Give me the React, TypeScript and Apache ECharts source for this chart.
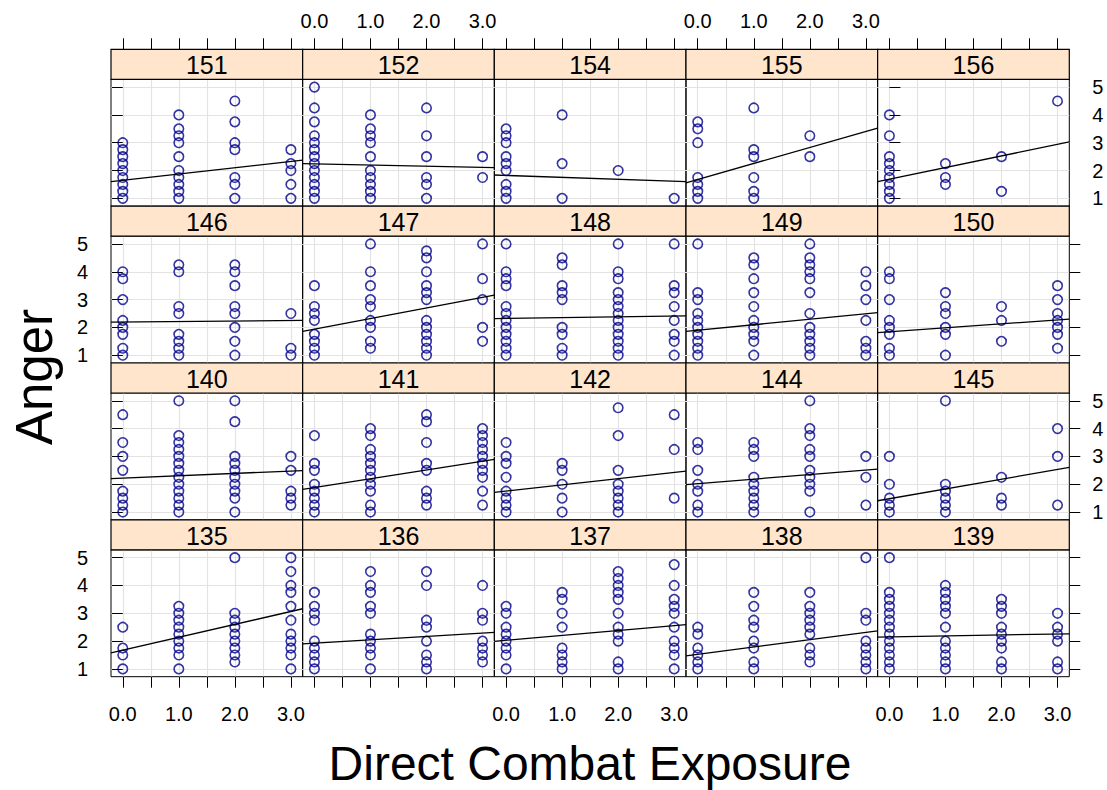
import React, { useEffect, useRef } from "react";
import * as echarts from "echarts";

// ---------------- data ----------------
const panelIds = [
  "151", "152", "154", "155", "156",
  "146", "147", "148", "149", "150",
  "140", "141", "142", "144", "145",
  "135", "136", "137", "138", "139",
];
const exposureLevels = [0, 1, 2, 3];

// Anger scores per exposure level (0,1,2,3) for each soldier panel
const anger151 = [[3, 2.75, 2.5, 2.25, 2, 1.75, 1.5, 1.25, 1], [4, 3.5, 3.25, 3, 2.5, 2, 1.75, 1.5, 1.25, 1], [4.5, 3.75, 3, 2.75, 1.75, 1.5, 1], [2.75, 2.25, 2, 1.5, 1]];
const anger152 = [[5, 4.25, 3.75, 3.25, 3, 2.75, 2.5, 2.25, 2, 1.75, 1.5, 1.25, 1], [4, 3.5, 3.25, 3, 2.5, 2, 1.75, 1.5, 1.25, 1], [4.25, 3.25, 2.5, 1.75, 1.5, 1], [2.5, 1.75]];
const anger154 = [[3.5, 3.25, 3, 2.5, 2.25, 2, 1.5, 1.25, 1], [4, 2.25, 1], [2], [1]];
const anger155 = [[3.75, 3.5, 3, 1.75, 1.5, 1.25, 1], [4.25, 2.75, 2.5, 1.75, 1.25, 1], [3.25, 2.5], []];
const anger156 = [[4, 3.25, 2.5, 2.25, 2, 1.75, 1.5, 1.25, 1], [2.25, 1.75, 1.5], [2.5, 1.25], [4.5]];
const anger146 = [[4, 3.75, 3, 2.25, 2, 1.75, 1.25, 1], [4.25, 4, 2.75, 2.5, 1.75, 1.5, 1.25, 1], [4.25, 4, 3.5, 2.75, 2.5, 2, 1.5, 1], [2.5, 1.25, 1]];
const anger147 = [[3.5, 2.75, 2.5, 2.25, 1.75, 1.5, 1.25, 1], [5, 4, 3.5, 3, 2.75, 2.25, 2, 1.5, 1.25], [4.75, 4.5, 4, 3.5, 3.25, 3, 2.25, 2, 1.75, 1.5, 1.25, 1], [5, 3.75, 3, 2, 1.5]];
const anger148 = [[5, 4, 3.75, 3.5, 2.75, 2.5, 2.25, 2, 1.75, 1.5, 1.25, 1], [4.5, 4.25, 3.5, 3.25, 3, 2, 1.75, 1.25, 1], [5, 4, 3.75, 3.25, 3, 2.75, 2.5, 2.25, 2, 1.75, 1.5, 1.25, 1], [5, 3.5, 3.25, 2.75, 2.25, 1.75, 1.5, 1]];
const anger149 = [[5, 3.25, 3, 2.5, 2.25, 2, 1.75, 1.5, 1.25, 1], [4.5, 4.25, 3.75, 3.25, 2.75, 2.25, 2, 1.75, 1.5, 1], [5, 4.5, 4.25, 4, 3.75, 3.25, 2.5, 2, 1.75, 1.5, 1.25, 1], [4, 3.5, 3, 2.25, 1.5, 1.25, 1]];
const anger150 = [[4, 3.75, 3, 2.25, 2, 1.75, 1.25, 1], [3.25, 2.75, 2.5, 2, 1.75, 1], [2.75, 2.25, 1.5], [3.5, 3, 2.5, 2.25, 2, 1.75, 1.25]];
const anger140 = [[4.5, 3.5, 3, 2.5, 1.75, 1.5, 1.25, 1], [5, 3.75, 3.5, 3.25, 3, 2.75, 2.5, 2.25, 2, 1.75, 1.5, 1.25, 1], [5, 4.25, 3, 2.75, 2.5, 2.25, 2, 1.75, 1.5, 1], [3, 2.5, 1.75, 1.5, 1.25]];
const anger141 = [[3.75, 2.75, 2.5, 2, 1.75, 1.5, 1.25, 1], [4, 3.75, 3.25, 3, 2.75, 2.5, 2.25, 2, 1.75, 1.25, 1], [4.5, 4.25, 3.5, 2.75, 2.5, 1.75, 1.5, 1.25], [4, 3.75, 3.5, 3.25, 3, 2.75, 2.5, 2.25, 1.75, 1.25]];
const anger142 = [[3.5, 3, 2.75, 2.25, 1.75, 1.5, 1.25, 1], [2.75, 2.5, 2, 1.5, 1], [4.75, 3.75, 2.5, 2, 1.75, 1.5, 1.25, 1], [4.5, 3.25, 1.5]];
const anger144 = [[3.5, 3.25, 2.5, 2, 1.75, 1.25, 1], [3.5, 3.25, 3, 2.25, 2, 1.75, 1.5, 1.25, 1], [5, 4, 3.75, 3.25, 3, 2.5, 2.25, 2, 1.75, 1], [3, 2.25, 1.25]];
const anger145 = [[3, 2, 1.5, 1.25, 1], [5, 2, 1.75, 1.5, 1.25, 1], [2.25, 1.5, 1.25], [4, 3, 1.25]];
const anger135 = [[2.5, 1.75, 1.5, 1], [3.25, 3, 2.75, 2.5, 2.25, 2, 1.75, 1.5, 1], [5, 3, 2.75, 2.5, 2.25, 2, 1.75, 1.5, 1.25], [5, 4.5, 4, 3.75, 3.25, 2.75, 2.25, 2, 1.75, 1.5, 1]];
const anger136 = [[3.75, 3.25, 3, 2.75, 2, 1.75, 1.5, 1.25, 1], [4.5, 4, 3.75, 3.25, 3, 2.25, 2, 1.75, 1.5, 1], [4.5, 4, 2.75, 2.5, 2, 1.5, 1.25, 1], [4, 3, 2.75, 2, 1.75, 1.5, 1.25]];
const anger137 = [[3.25, 3, 2.5, 2.25, 2, 1.75, 1.5, 1], [3.75, 3.5, 3, 2.5, 1.75, 1.5, 1.25, 1], [4.5, 4.25, 4, 3.75, 3.5, 3, 2.5, 2.25, 2, 1.25, 1], [4.75, 4, 3.5, 3.25, 3, 2.5, 2, 1.75, 1.5, 1]];
const anger138 = [[2.5, 2.25, 1.75, 1.5, 1.25, 1], [3.75, 3.25, 2.75, 2.5, 2, 1.75, 1.25, 1], [3.75, 3.25, 3, 2.75, 2.5, 2.25, 1.75, 1.5, 1.25], [5, 3, 2.75, 2, 1.75, 1.5, 1.25, 1]];
const anger139 = [[5, 3.75, 3.5, 3.25, 3, 2.75, 2.5, 2.25, 2, 1.75, 1.5, 1.25, 1], [4, 3.75, 3.5, 3.25, 3, 2.5, 2, 1.75, 1.5, 1.25, 1], [3.5, 3.25, 3, 2.5, 2.25, 2, 1.75, 1.25, 1], [3, 2.5, 2.25, 2, 1.25, 1]];

const panelValues = [
  anger151, anger152, anger154, anger155, anger156,
  anger146, anger147, anger148, anger149, anger150,
  anger140, anger141, anger142, anger144, anger145,
  anger135, anger136, anger137, anger138, anger139,
];

// fitted least-squares lines (intercept at exposure 0, slope)
const fitIntercepts = [
  1.65, 2.24, 1.825, 1.68, 1.69,
  2.195, 1.94, 2.32, 1.9, 1.84,
  2.22, 1.88, 1.757, 2.02, 1.48,
  1.67, 1.925, 2.03, 1.525, 2.15,
];
const fitSlopes = [
  0.225, -0.041, -0.07, 0.576, 0.418,
  0.0175, 0.38, 0.029, 0.196, 0.143,
  0.085, 0.316, 0.222, 0.164, 0.351,
  0.465, 0.12, 0.175, 0.263, 0.035,
];

const xTickValues = [0, 0.5, 1, 1.5, 2, 2.5, 3];
const xLabelValues = [0, 1, 2, 3];
const yTickValues = [1, 2, 3, 4, 5];

const X_MIN = -0.21;
const X_MAX = 3.21;
const Y_MIN = 0.72;
const Y_MAX = 5.28;

// ---------------- layout ----------------
const COLS = 5;
const ROWS = 4;
const PL = 111;
const PW = 191.66;
const TOP0 = 49.3;
const ROWH = 156.85;
const STRIP = 30;
const PH = ROWH - STRIP;
const FONT = "Liberation Sans";
const PT_COLOR = "#00008B";
const GRID_COLOR = "#e3e3e3";
const TICK_FONT = 20;

const isLabelValue = (v: number, list: number[]) => list.some((x) => Math.abs(x - v) < 1e-6);

function buildOption() {
  const grids: any[] = [];
  const xAxes: any[] = [];
  const yAxes: any[] = [];
  const series: any[] = [];
  const graphics: any[] = [];

  const tickStyle = { show: true, length: 11, inside: false, lineStyle: { color: "#000", width: 1 } };

  // labels use the axis' own nice ticks; only the wanted values get text
  const mkLabel = (show: boolean, margin: number, values: number[], fmt: (v: number) => string) => ({
    show,
    margin,
    interval: 0,
    showMinLabel: true,
    showMaxLabel: true,
    hideOverlap: false,
    formatter: (v: number) => (isLabelValue(v, values) ? fmt(v) : ""),
    color: "#000",
    fontFamily: FONT,
    fontSize: TICK_FONT,
  });

  panelIds.forEach((id, i) => {
    const r = Math.floor(i / COLS);
    const c = i % COLS;
    const left = PL + c * PW;
    const stripTop = TOP0 + r * ROWH;
    const top = stripTop + STRIP;

    grids.push({
      left, top, width: PW, height: PH,
      show: true, borderColor: "#000", borderWidth: 1,
      backgroundColor: "transparent", containLabel: false, outerBoundsMode: "none",
    });

    const fx = (v: number) => v.toFixed(1);
    const fy = (v: number) => String(Math.round(v));

    // primary x (bottom)
    const xi = xAxes.length;
    const isBottom = r === ROWS - 1;
    xAxes.push({
      type: "value", gridIndex: i, position: "bottom", min: X_MIN, max: X_MAX,
      axisLine: { show: false },
      axisTick: { ...tickStyle, show: isBottom, customValues: xTickValues },
      axisLabel: mkLabel(isBottom && c % 2 === 0, 27, xLabelValues, fx),
      splitLine: { show: true, lineStyle: { color: GRID_COLOR, width: 1.2 } },
    });
    if (r === 0) {
      xAxes.push({
        type: "value", gridIndex: i, position: "top", offset: STRIP, min: X_MIN, max: X_MAX,
        axisLine: { show: false },
        axisTick: { ...tickStyle, customValues: xTickValues },
        axisLabel: mkLabel(c % 2 === 1, 18, xLabelValues, fx),
        splitLine: { show: false },
      });
    }

    // primary y (left)
    const yi = yAxes.length;
    yAxes.push({
      type: "value", gridIndex: i, position: "left", min: Y_MIN, max: Y_MAX,
      axisLine: { show: false },
      axisTick: { ...tickStyle, show: c === 0, customValues: yTickValues },
      axisLabel: mkLabel(c === 0 && r % 2 === 1, 23, yTickValues, fy),
      splitLine: { show: true, lineStyle: { color: GRID_COLOR, width: 1.2 } },
    });
    if (c === COLS - 1) {
      yAxes.push({
        type: "value", gridIndex: i, position: "right", min: Y_MIN, max: Y_MAX,
        axisLine: { show: false },
        axisTick: { ...tickStyle, customValues: yTickValues },
        axisLabel: mkLabel(r % 2 === 0, 23, yTickValues, fy),
        splitLine: { show: false },
      });
    }

    const pts: number[][] = [];
    panelValues[i].forEach((vals, k) => {
      vals.forEach((v) => pts.push([exposureLevels[k], v]));
    });
    series.push({
      type: "scatter", xAxisIndex: xi, yAxisIndex: yi, data: pts,
      symbol: "circle", symbolSize: 9.5, silent: true, z: 3,
      itemStyle: { color: "rgba(0,0,0,0)", borderColor: PT_COLOR, borderWidth: 1.6 },
    });
    const a = fitIntercepts[i];
    const b = fitSlopes[i];
    series.push({
      type: "line", xAxisIndex: xi, yAxisIndex: yi, silent: true, z: 4,
      data: [[X_MIN, a + b * X_MIN], [X_MAX, a + b * X_MAX]],
      showSymbol: false, symbol: "none",
      lineStyle: { color: "#000", width: 1.3 },
    });

    graphics.push({
      type: "rect", silent: true, z: 10,
      shape: { x: left, y: stripTop, width: PW, height: STRIP },
      style: { fill: "#FFE5CC", stroke: "#000", lineWidth: 1.2 },
    });
    graphics.push({
      type: "text", silent: true, z: 11,
      x: left + PW / 2, y: stripTop + STRIP / 2 + 1,
      style: { text: id, fontSize: 25, fontFamily: FONT, fill: "#000", align: "center", verticalAlign: "middle" },
    });
  });

  graphics.push({
    type: "text", silent: true, z: 11, x: 34, y: 377, rotation: Math.PI / 2,
    style: { text: "Anger", fontSize: 51, fontFamily: FONT, fill: "#000", align: "center", verticalAlign: "middle" },
  });
  graphics.push({
    type: "text", silent: true, z: 11, x: 590, y: 763,
    style: { text: "Direct Combat Exposure", fontSize: 48, fontFamily: FONT, fill: "#000", align: "center", verticalAlign: "middle" },
  });

  return {
    animation: false,
    backgroundColor: "#fff",
    textStyle: { fontFamily: FONT },
    grid: grids,
    xAxis: xAxes,
    yAxis: yAxes,
    series,
    graphic: graphics,
  };
}

export default function App() {
  const ref = useRef<HTMLDivElement>(null);
  useEffect(() => {
    if (!ref.current) return;
    const chart = echarts.init(ref.current, undefined, { renderer: "svg" });
    chart.setOption(buildOption() as any);
    return () => chart.dispose();
  }, []);
  return (
    <div
      ref={ref}
      style={{ position: "absolute", left: 0, top: 0, width: 1107, height: 790 }}
    />
  );
}
